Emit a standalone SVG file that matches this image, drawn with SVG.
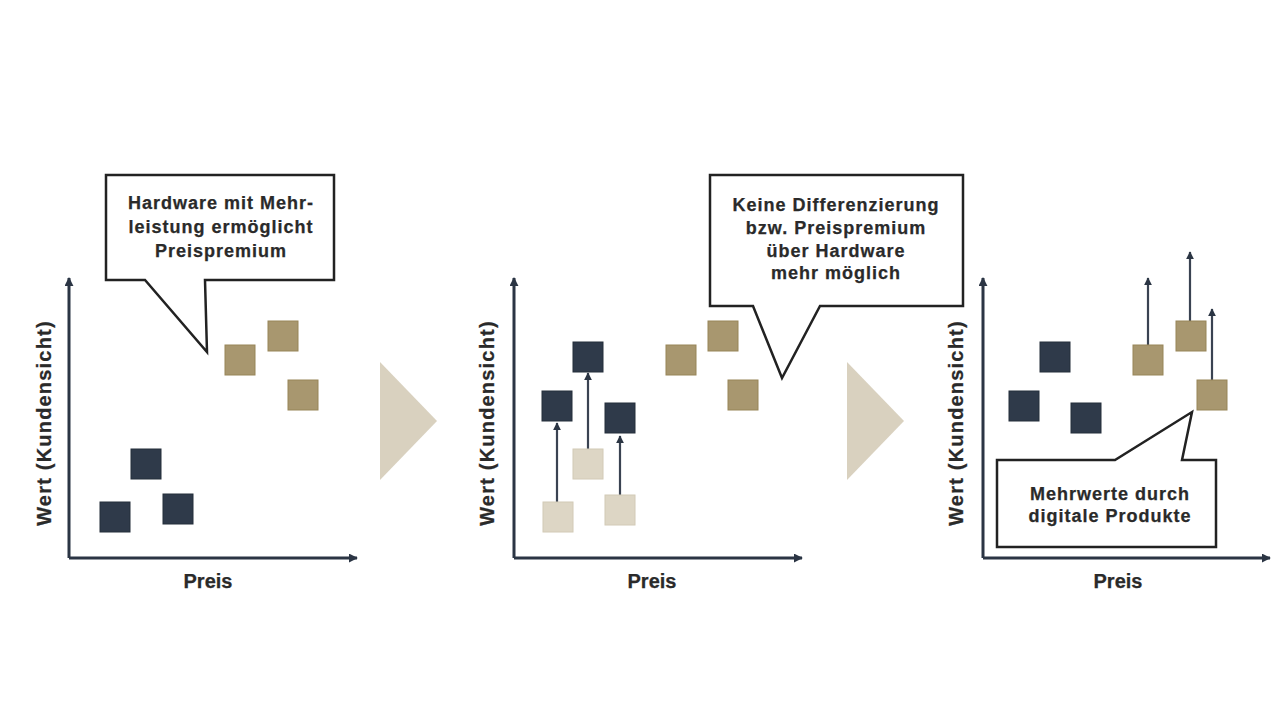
<svg xmlns="http://www.w3.org/2000/svg" width="1280" height="721" viewBox="0 0 1280 721">
<defs>
<marker id="ah" viewBox="0 0 10 10" refX="9" refY="5" markerWidth="9" markerHeight="9" markerUnits="userSpaceOnUse" orient="auto">
<path d="M0,0 L10,5 L0,10 z" fill="#2b3544"/>
</marker>
<marker id="ah2" viewBox="0 0 10 10" refX="9" refY="5" markerWidth="8" markerHeight="8" markerUnits="userSpaceOnUse" orient="auto">
<path d="M0,0 L10,5 L0,10 z" fill="#2b3544"/>
</marker>
</defs>
<style>
.axis{stroke:#2b3544;stroke-width:3;fill:none}
.arr{stroke:#3a4352;stroke-width:2.2;fill:none}
.navy{fill:#2f3a4a;stroke:#252e3b;stroke-width:1}
.gold{fill:#a8976f;stroke:#978558;stroke-width:1}
.light{fill:#ddd6c5;stroke:#d2cab6;stroke-width:1}
.tri{fill:#d9d1bf}
.call{fill:#ffffff;stroke:#222;stroke-width:2.5;stroke-linejoin:miter}
.t{font-family:"Liberation Sans",Arial,sans-serif;font-weight:bold;fill:#2a2a2a;text-anchor:middle;stroke:#2a2a2a;stroke-width:0.25}
.ct{font-size:18px;letter-spacing:1px}
.ax{font-size:20px}
.wy{font-size:20px;letter-spacing:1.2px}
</style>
<rect width="1280" height="721" fill="#ffffff"/>

<g id="connectors">
<path class="axis" d="M69,558 V278" marker-end="url(#ah)"/>
<path class="axis" d="M69,558 H357" marker-end="url(#ah)"/>
<path class="axis" d="M514,558 V278" marker-end="url(#ah)"/>
<path class="axis" d="M514,558 H802" marker-end="url(#ah)"/>
<path class="axis" d="M983,558 V278" marker-end="url(#ah)"/>
<path class="axis" d="M983,558 H1270" marker-end="url(#ah)"/>
<path class="arr" d="M557,502 V423" marker-end="url(#ah2)"/>
<path class="arr" d="M588,449 V373" marker-end="url(#ah2)"/>
<path class="arr" d="M620,495 V436" marker-end="url(#ah2)"/>
<path class="arr" d="M1148,345 V278" marker-end="url(#ah2)"/>
<path class="arr" d="M1190,321 V252" marker-end="url(#ah2)"/>
<path class="arr" d="M1212,380 V309" marker-end="url(#ah2)"/>
</g>

<g id="panel1">
<rect class="gold" x="225" y="345" width="30" height="30"/>
<rect class="gold" x="268" y="321" width="30" height="30"/>
<rect class="gold" x="288" y="380" width="30" height="30"/>
<rect class="navy" x="131" y="449" width="30" height="30"/>
<rect class="navy" x="100" y="502" width="30" height="30"/>
<rect class="navy" x="163" y="494" width="30" height="30"/>
<text class="t ax" x="208" y="588">Preis</text>
<text class="t wy" transform="translate(51,423) rotate(-90)" x="0" y="0">Wert (Kundensicht)</text>
</g>

<g id="callout1">
<path class="call" d="M106,175 H334 V280 H205 L207,352 L145,280 H106 Z"/>
<text class="t ct" x="221" y="209">Hardware mit Mehr-</text>
<text class="t ct" x="221" y="233">leistung ermöglicht</text>
<text class="t ct" x="221" y="257">Preispremium</text>
</g>

<g id="arrow1"><path class="tri" d="M380,362 L437,421 L380,480 Z"/></g>

<g id="panel2">
<rect class="light" x="543" y="502" width="30" height="30"/>
<rect class="light" x="573" y="449" width="30" height="30"/>
<rect class="light" x="605" y="495" width="30" height="30"/>
<rect class="navy" x="542" y="391" width="30" height="30"/>
<rect class="navy" x="573" y="342" width="30" height="30"/>
<rect class="navy" x="605" y="403" width="30" height="30"/>
<rect class="gold" x="666" y="345" width="30" height="30"/>
<rect class="gold" x="708" y="321" width="30" height="30"/>
<rect class="gold" x="728" y="380" width="30" height="30"/>
<text class="t ax" x="652" y="588">Preis</text>
<text class="t wy" transform="translate(494,423) rotate(-90)" x="0" y="0">Wert (Kundensicht)</text>
</g>

<g id="callout2">
<path class="call" d="M710,175 H963 V306 H820 L782,378 L753,306 H710 Z"/>
<text class="t ct" x="836" y="211">Keine Differenzierung</text>
<text class="t ct" x="836" y="234">bzw. Preispremium</text>
<text class="t ct" x="836" y="257">über Hardware</text>
<text class="t ct" x="836" y="279">mehr möglich</text>
</g>

<g id="arrow2"><path class="tri" d="M847,362 L904,421 L847,480 Z"/></g>

<g id="panel3">
<rect class="navy" x="1040" y="342" width="30" height="30"/>
<rect class="navy" x="1009" y="391" width="30" height="30"/>
<rect class="navy" x="1071" y="403" width="30" height="30"/>
<rect class="gold" x="1133" y="345" width="30" height="30"/>
<rect class="gold" x="1176" y="321" width="30" height="30"/>
<rect class="gold" x="1197" y="380" width="30" height="30"/>
<text class="t ax" x="1118" y="588">Preis</text>
<text class="t wy" transform="translate(963,423) rotate(-90)" x="0" y="0">Wert (Kundensicht)</text>
</g>

<g id="callout3">
<path class="call" d="M997,460 H1115 L1192,412 L1182,460 H1216 V547 H997 Z"/>
<text class="t ct" x="1110" y="500">Mehrwerte durch</text>
<text class="t ct" x="1110" y="522">digitale Produkte</text>
</g>
</svg>
